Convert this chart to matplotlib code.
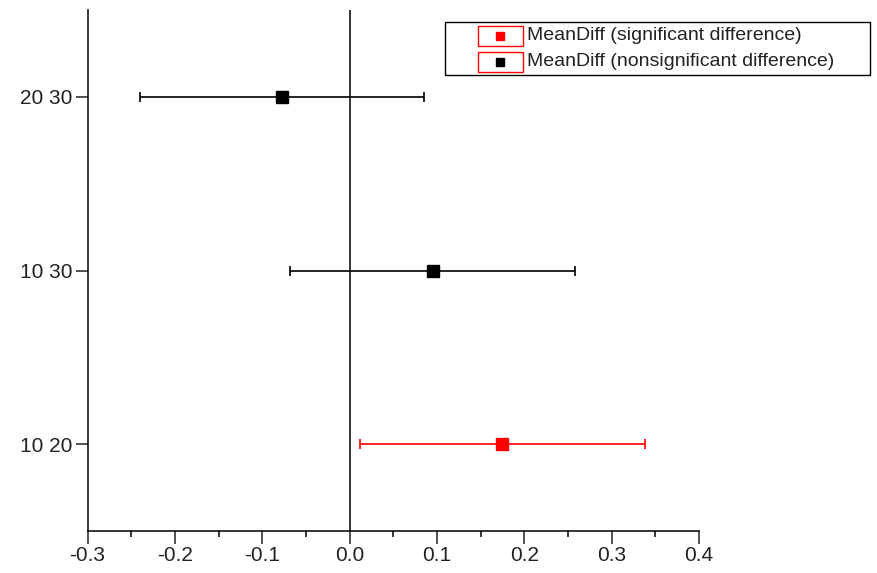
import matplotlib
matplotlib.use("Agg")
import matplotlib.pyplot as plt
from matplotlib.patches import Rectangle
from matplotlib.lines import Line2D
from matplotlib.ticker import MultipleLocator

plt.rcParams["font.family"] = ["Liberation Sans", "DejaVu Sans"]

# ================= DATA =================
pairs = ["10 20", "10 30", "20 30"]
mean_diff = [0.175, 0.095, -0.077]
lower = [0.012, -0.068, -0.240]
upper = [0.338, 0.258, 0.085]
significant = [True, False, False]

legend_labels = ["MeanDiff (significant difference)",
                 "MeanDiff (nonsignificant difference)"]
legend_colors = ["red", "black"]

# ================= CHART =================
fig = plt.figure(figsize=(8.78, 5.73), dpi=100)
ax = fig.add_axes([0.0997, 0.0733, 0.6964, 0.9092])

for i, name in enumerate(pairs):
    col = "red" if significant[i] else "black"
    m = mean_diff[i]
    ax.errorbar(m, i + 1, xerr=[[m - lower[i]], [upper[i] - m]],
                fmt="s", color=col, ecolor=col, markersize=8.5,
                elinewidth=1.2, capsize=3.6, capthick=1.2, zorder=3)

ax.axvline(0, color="black", lw=1.1, zorder=2)

ax.set_xlim(-0.3, 0.4)
ax.set_ylim(0.5, 3.5)
ax.set_yticks(range(1, len(pairs) + 1))
ax.set_yticklabels(pairs)
ax.xaxis.set_major_locator(MultipleLocator(0.1))
ax.xaxis.set_minor_locator(MultipleLocator(0.05))
ax.set_xticklabels([f"{v:.1f}" for v in ax.get_xticks()])

for s in ["top", "right"]:
    ax.spines[s].set_visible(False)
for s in ["left", "bottom"]:
    ax.spines[s].set_linewidth(1.1)
ax.tick_params(axis="both", which="major", length=9, width=1.1,
               labelsize=15, pad=2, colors="#222222")
ax.tick_params(axis="x", which="minor", length=4.5, width=1.1)

# Origin style legend, drawn in figure pixels
W, H = 878, 573
def fx(px):
    return px / W
def fy(py):
    return 1 - py / H

fig.patches.append(Rectangle((fx(445), fy(75)), fx(870) - fx(445), fy(22) - fy(75),
                             transform=fig.transFigure, fill=False,
                             edgecolor="black", lw=1.0))
rows_y = [36, 62]
for lab, col, ry in zip(legend_labels, legend_colors, rows_y):
    fig.patches.append(Rectangle((fx(478), fy(ry + 10)), fx(523) - fx(478), fy(ry - 10) - fy(ry + 10),
                                 transform=fig.transFigure, fill=False,
                                 edgecolor="red", lw=1.0))
    fig.lines.append(Line2D([fx(500)], [fy(ry)], transform=fig.transFigure,
                            marker="s", markersize=5.5, color=col, ls="none"))
    fig.text(fx(527), fy(ry), lab, fontsize=14, va="center", ha="left",
             color="#222222")

fig.savefig("out.png", dpi=100)
plt.close()
